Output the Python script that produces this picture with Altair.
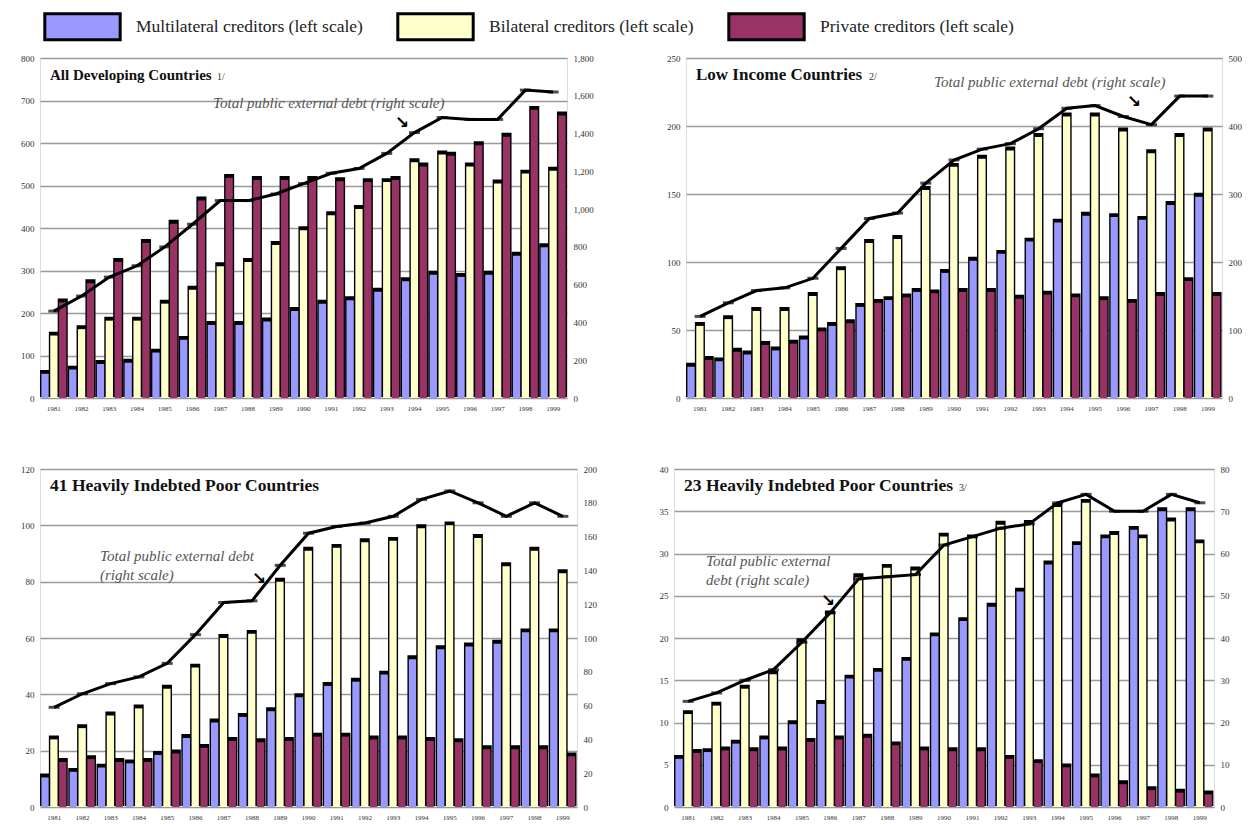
import altair as alt
import pandas as pd

years = list(range(1981, 2000))
series_names = ["Multilateral creditors (left scale)",
                "Bilateral creditors (left scale)",
                "Private creditors (left scale)"]
series_colors = ["#9999FF", "#FFFFCC", "#993366"]

# Panel 1: All Developing Countries (billions of US$)
p1_multi = [57, 67, 80, 83, 107, 137, 172, 172, 180, 205, 222, 230, 250, 275, 290, 285, 290, 335, 355]
p1_bilat = [147, 162, 182, 182, 222, 255, 310, 320, 360, 395, 430, 445, 508, 555, 573, 545, 505, 528, 535]
p1_priv = [225, 270, 320, 365, 410, 465, 518, 513, 513, 513, 510, 508, 513, 545, 570, 595, 615, 678, 665]
p1_total = [460, 540, 640, 700, 800, 920, 1045, 1045, 1080, 1135, 1190, 1215, 1295, 1405, 1485, 1475, 1475, 1630, 1620]

# Panel 2: Low Income Countries
p2_multi = [23, 27, 32, 35, 43, 53, 67, 72, 78, 92, 101, 106, 115, 129, 134, 133, 131, 142, 148]
p2_bilat = [53, 58, 64, 64, 75, 94, 114, 117, 153, 170, 176, 182, 192, 207, 207, 196, 180, 192, 196]
p2_priv = [28, 34, 39, 40, 49, 55, 70, 74, 77, 78, 78, 73, 76, 74, 72, 70, 75, 86, 75]
p2_total = [120, 140, 158, 162, 176, 220, 264, 272, 316, 350, 366, 374, 396, 426, 430, 414, 402, 444, 444]

# Panel 3: 41 Heavily Indebted Poor Countries
p3_multi = [10.5, 12.5, 14, 15.5, 18.5, 24.5, 30, 32, 34, 39, 43, 44.5, 47, 52.5, 56, 57, 58, 62, 62]
p3_bilat = [24, 28, 32.5, 35, 42, 49.5, 60, 61.5, 80, 91, 92, 94, 94.5, 99, 100, 95.5, 85.5, 91, 83]
p3_priv = [16, 17, 16, 16, 19, 21, 23.5, 23, 23.5, 25, 25, 24, 24, 23.5, 23, 20.5, 20.5, 20.5, 18]
p3_total = [59, 67, 73, 77, 85, 102, 121, 122, 143, 162, 166, 168, 172, 182, 187, 180, 172, 180, 172]

# Panel 4: 23 Heavily Indebted Poor Countries
p4_multi = [5.7, 6.5, 7.5, 8, 9.8, 12.2, 15.2, 16, 17.3, 20.2, 22, 23.7, 25.5, 28.7, 31, 31.8, 32.8, 35, 35]
p4_bilat = [11, 12, 14, 15.7, 19.5, 22.8, 27.2, 28.3, 28, 32, 31.8, 33.4, 33.5, 35.5, 36, 32.2, 31.8, 33.8, 31.2]
p4_priv = [6.4, 6.7, 6.6, 6.7, 7.7, 8, 8.2, 7.3, 6.7, 6.6, 6.6, 5.7, 5.2, 4.7, 3.5, 2.7, 2, 1.7, 1.5]
p4_total = [25, 27, 30, 32.5, 39, 46, 54, 54.5, 55, 62, 64, 66, 67, 72, 74, 70, 70, 74, 72]

FONT = "'Liberation Serif', 'Times New Roman', serif"
LINE_LABEL = "Total public external debt (right scale)"


def make_panel(multi, bilat, priv, total, left_max, left_step, right_max, right_step,
               width, height, title, title_size, note, note_x, ann_lines, ann_x, ann_y,
               arrow_x, arrow_y):
    rows = []
    for name, vals in zip(series_names, [multi, bilat, priv]):
        for yr, v in zip(years, vals):
            rows.append({"year": str(yr), "series": name, "value": v})
    bars_df = pd.DataFrame(rows)
    line_df = pd.DataFrame({"year": [str(y) for y in years], "total": total})

    x_enc = alt.X("year:O", title=None,
                  scale=alt.Scale(paddingInner=0.1, paddingOuter=0.05),
                  axis=alt.Axis(labelAngle=0, labelFontSize=7, labelFont=FONT, labelColor="#333",
                                ticks=False, domain=False, labelPadding=6))
    xo_enc = alt.XOffset("series:N", sort=series_names, scale=alt.Scale(paddingInner=0.18))
    left_ticks = list(range(0, int(left_max) + 1, int(left_step)))
    y_left = alt.Y("value:Q", title=None,
                   scale=alt.Scale(domain=[0, left_max], nice=False),
                   axis=alt.Axis(orient="left", values=left_ticks, format=",.0f", labelFontSize=9,
                                 labelFont=FONT, labelColor="#333", ticks=False, domain=False,
                                 grid=True, gridColor="#999999", gridWidth=1.6, labelPadding=6))
    y_left_noaxis = alt.Y("value:Q", title=None,
                          scale=alt.Scale(domain=[0, left_max], nice=False), axis=None)

    shadow = alt.Chart(bars_df).mark_bar(color="black", stroke="black", strokeWidth=2.8,
                                         yOffset=-2.5).encode(
        x=x_enc, xOffset=xo_enc, y=y_left_noaxis)
    bars = alt.Chart(bars_df).mark_bar(strokeWidth=0).encode(
        x=x_enc, xOffset=xo_enc, y=y_left,
        color=alt.Color("series:N", sort=series_names,
                        scale=alt.Scale(domain=series_names, range=series_colors),
                        legend=alt.Legend(
                            orient="none", legendX=28, legendY=-46, direction="horizontal",
                            title=None, symbolType="M-2.9,-1H2.9V1H-2.9Z", symbolSize=676,
                            symbolStrokeColor="black", symbolStrokeWidth=3, symbolOpacity=1,
                            labelFont=FONT, labelFontSize=17.5, labelColor="#222",
                            labelLimit=400, labelOffset=39, columnPadding=28, columns=3)))

    right_ticks = list(range(0, int(right_max) + 1, int(right_step)))
    y_right = alt.Y("total:Q", title=None,
                    scale=alt.Scale(domain=[0, right_max], nice=False),
                    axis=alt.Axis(orient="right", values=right_ticks, format=",.0f", labelFontSize=9,
                                  labelFont=FONT, labelColor="#333", ticks=False, domain=False,
                                  grid=False, labelPadding=6))
    y_right_noaxis = alt.Y("total:Q", title=None,
                           scale=alt.Scale(domain=[0, right_max], nice=False), axis=None)

    line = alt.Chart(line_df).mark_line(color="black", strokeWidth=3).encode(
        x=alt.X("year:O"), y=y_right)
    ticks = alt.Chart(line_df).mark_tick(color="black", thickness=3, size=11).encode(
        x=alt.X("year:O"), y=y_right_noaxis)

    one = pd.DataFrame({"k": [0]})
    title_txt = alt.Chart(one).mark_text(font=FONT, fontSize=title_size, fontWeight="bold",
                                         align="left", baseline="middle", color="#111").encode(
        x=alt.value(10), y=alt.value(17), text=alt.value(title))
    layers = [shadow, bars, line, ticks, title_txt]
    if note:
        layers.append(alt.Chart(one).mark_text(font=FONT, fontSize=10, align="left",
                                               baseline="middle", color="#333").encode(
            x=alt.value(note_x), y=alt.value(19), text=alt.value(note)))
    for i, ln in enumerate(ann_lines):
        layers.append(alt.Chart(one).mark_text(font=FONT, fontSize=15, fontStyle="italic",
                                               align="left", baseline="middle",
                                               color="#555").encode(
            x=alt.value(ann_x), y=alt.value(ann_y + 19 * i), text=alt.value(ln)))
    layers.append(alt.Chart(one).mark_text(font="DejaVu Sans", fontSize=17, fontWeight="bold",
                                           align="center", baseline="middle", color="black").encode(
        x=alt.value(arrow_x), y=alt.value(arrow_y), text=alt.value("\u2198")))

    return alt.layer(*layers).resolve_scale(y="independent").properties(width=width, height=height)


p1 = make_panel(p1_multi, p1_bilat, p1_priv, p1_total, 800, 100, 1800, 200, 527, 340,
                "All Developing Countries", 15, "1/", 177, [LINE_LABEL], 173, 45, 362, 65)
p2 = make_panel(p2_multi, p2_bilat, p2_priv, p2_total, 250, 50, 500, 100, 536, 340,
                "Low Income Countries", 17, "2/", 183, [LINE_LABEL], 248, 24, 448, 44)
p3 = make_panel(p3_multi, p3_bilat, p3_priv, p3_total, 120, 20, 200, 20, 537, 338,
                "41 Heavily Indebted Poor Countries", 17.5, "", 0,
                ["Total public external debt", "(right scale)"], 60, 87, 219, 110)
p4 = make_panel(p4_multi, p4_bilat, p4_priv, p4_total, 40, 5, 80, 10, 540, 338,
                "23 Heavily Indebted Poor Countries", 17.5, "3/", 285,
                ["Total public external", "debt (right scale)"], 32, 92, 154, 132)

row1 = alt.hconcat(p1, p2, spacing=72)
row2 = alt.hconcat(p3, p4, spacing=61)
chart = alt.vconcat(row1, row2, spacing=52).properties(
    padding={"left": 12, "top": 4, "right": 0, "bottom": 0}
).configure_view(stroke="black", strokeWidth=2).configure(background="white")

chart.save("out.html", embed_options={"renderer": "svg", "actions": False})
